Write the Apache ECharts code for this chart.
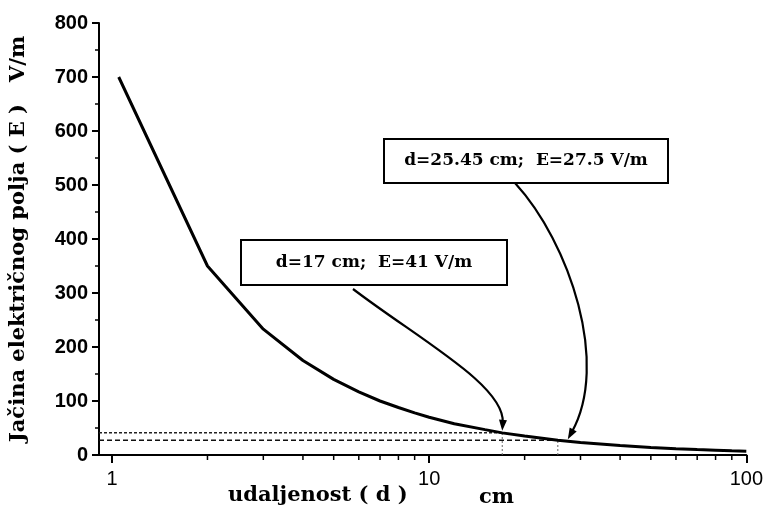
<!DOCTYPE html>
<html>
<head>
<meta charset="utf-8">
<script src="https://cdn.jsdelivr.net/npm/echarts@6/dist/echarts.min.js"></script>
<style>html,body{margin:0;padding:0;background:#fff}#c{width:766px;height:514px}</style>
</head>
<body>
<div id="c"></div>
<script>
// distance d (cm) and field strength E (V/m)
const distance = [1.05, 2, 3, 4, 5, 6, 7, 8, 9, 10, 12, 15, 17, 20, 25.45, 30, 40, 50, 60, 70, 80, 90, 100];
const field    = [700, 350, 233, 175, 140, 117, 100, 88, 78, 70, 58, 47, 41, 35, 27.5, 23, 17.5, 14, 11.7, 10, 8.8, 7.8, 7];
const xMajorTicks = [1, 10, 100];
const xMinorTicks = [2, 3, 4, 5, 6, 7, 8, 9, 20, 30, 40, 50, 60, 70, 80, 90];
const yTicks = [0, 100, 200, 300, 400, 500, 600, 700, 800];
const point1 = [17, 41];
const point2 = [25.45, 27.5];
const label1 = 'd=17 cm;  E=41 V/m';
const label2 = 'd=25.45 cm;  E=27.5 V/m';
const xMin = 0.91;

const chart = echarts.init(document.getElementById('c'));
const serif = 'DejaVu Serif';
const sans = 'Liberation Sans';

chart.setOption({
  animation: false,
  grid: { left: 99, right: 19, top: 23, bottom: 59 },
  xAxis: {
    type: 'log', logBase: 10, min: xMin, max: 100,
    axisLine: { lineStyle: { color: '#000', width: 2 } },
    axisTick: { length: 8, lineStyle: { color: '#000', width: 2 } },
    splitLine: { show: false },
    axisLabel: {
      showMinLabel: false, margin: 14, color: '#000',
      fontFamily: sans, fontSize: 20,
      formatter: v => (xMajorTicks.some(t => Math.abs(t - v) < 1e-6) ? String(Math.round(v)) : '')
    }
  },
  yAxis: {
    type: 'value', min: 0, max: 800, interval: 100,
    name: 'Jačina električnog polja ( E )   V/m',
    nameLocation: 'middle', nameGap: 70, nameRotate: 90,
    nameTextStyle: { fontFamily: serif, fontWeight: 'bold', fontSize: 21, color: '#000' },
    axisLine: { show: true, lineStyle: { color: '#000', width: 2 } },
    axisTick: { show: true, length: 7, lineStyle: { color: '#000', width: 2 } },
    minorTick: { show: true, splitNumber: 2, length: 4, lineStyle: { color: '#000', width: 1.5 } },
    splitLine: { show: false },
    axisLabel: {
      margin: 11, color: '#000', fontFamily: sans, fontWeight: 'bold', fontSize: 20,
      formatter: v => (yTicks.includes(v) ? String(v) : '')
    }
  },
  series: [
    {
      type: 'custom', silent: true, clip: false,
      data: xMinorTicks.map(v => [v, 0]),
      renderItem: (params, api) => {
        const p = api.coord([api.value(0), 0]);
        return { type: 'line', shape: { x1: p[0], y1: p[1], x2: p[0], y2: p[1] + 5 },
                 style: { stroke: '#000', lineWidth: 1.5 } };
      }
    },
    {
      type: 'line', symbol: 'none', silent: true,
      data: [[xMin, point1[1]], point1],
      lineStyle: { color: '#222', width: 1.5, type: [3, 2] }
    },
    {
      type: 'line', symbol: 'none', silent: true,
      data: [[xMin, point2[1]], point2],
      lineStyle: { color: '#111', width: 1.5, type: [5, 3] }
    },
    {
      type: 'line', symbol: 'none', silent: true,
      data: [[point1[0], 0], point1],
      lineStyle: { color: '#666', width: 1, type: [2, 2] }
    },
    {
      type: 'line', symbol: 'none', silent: true,
      data: [[point2[0], 0], point2],
      lineStyle: { color: '#666', width: 1, type: [2, 2] }
    },
    {
      type: 'line', symbol: 'none', silent: true,
      data: distance.map((d, i) => [d, field[i]]),
      lineStyle: { color: '#000', width: 3 }
    }
  ]
});

// annotations: boxes + curved arrows pointing to the data points
function arrowHead(tip, from) {
  const dx = tip[0] - from[0], dy = tip[1] - from[1];
  const L = Math.hypot(dx, dy), ux = dx / L, uy = dy / L;
  const len = 11, w = 4;
  const bx = tip[0] - ux * len, by = tip[1] - uy * len;
  return { type: 'polygon', shape: { points: [tip, [bx - uy * w, by + ux * w], [bx + uy * w, by - ux * w]] },
           style: { fill: '#000' } };
}
const p1 = chart.convertToPixel({ gridIndex: 0 }, point1);
const p2 = chart.convertToPixel({ gridIndex: 0 }, point2);
const box1 = { x: 241, y: 240, w: 266, h: 45 };
const box2 = { x: 384, y: 139, w: 284, h: 44 };
const t1 = [p1[0], p1[1] - 2];
const t2 = [p2[0] + 10, p2[1] - 1];
const s1 = [box1.x + 112, box1.y + box1.h + 4];
const s2 = [box2.x + 131, box2.y + box2.h];
const c1a = [s1[0] + 67, s1[1] + 51], c1b = [t1[0] + 3, t1[1] - 45];
const c2a = [s2[0] + 55, s2[1] + 60], c2b = [t2[0] + 42, t2[1] - 75];

const elems = [];
[[box1, label1], [box2, label2]].forEach(([b, txt]) => {
  elems.push({ type: 'rect', shape: { x: b.x, y: b.y, width: b.w, height: b.h },
               style: { fill: '#fff', stroke: '#000', lineWidth: 2 } });
  elems.push({ type: 'text', x: b.x + b.w / 2, y: b.y + b.h / 2,
               style: { text: txt, fontFamily: serif, fontWeight: 'bold', fontSize: 17, fill: '#000',
                        align: 'center', verticalAlign: 'middle' } });
});
[[s1, c1a, c1b, t1], [s2, c2a, c2b, t2]].forEach(([s, a, b, t]) => {
  const head = arrowHead(t, b);
  const dx = t[0] - b[0], dy = t[1] - b[1], L = Math.hypot(dx, dy);
  const end = [t[0] - dx / L * 8, t[1] - dy / L * 8];
  elems.push({ type: 'bezierCurve', shape: { x1: s[0], y1: s[1], cpx1: a[0], cpy1: a[1], cpx2: b[0], cpy2: b[1], x2: end[0], y2: end[1] },
               style: { stroke: '#000', lineWidth: 2.2, fill: null } });
  elems.push(head);
});
elems.push({ type: 'text', x: 228, y: 496,
             style: { text: 'udaljenost ( d )', fontFamily: serif, fontWeight: 'bold', fontSize: 21, fill: '#000', verticalAlign: 'middle' } });
elems.push({ type: 'text', x: 479, y: 498,
             style: { text: 'cm', fontFamily: serif, fontWeight: 'bold', fontSize: 21, fill: '#000', verticalAlign: 'middle' } });
chart.setOption({ graphic: { elements: elems } });
</script>
</body>
</html>
